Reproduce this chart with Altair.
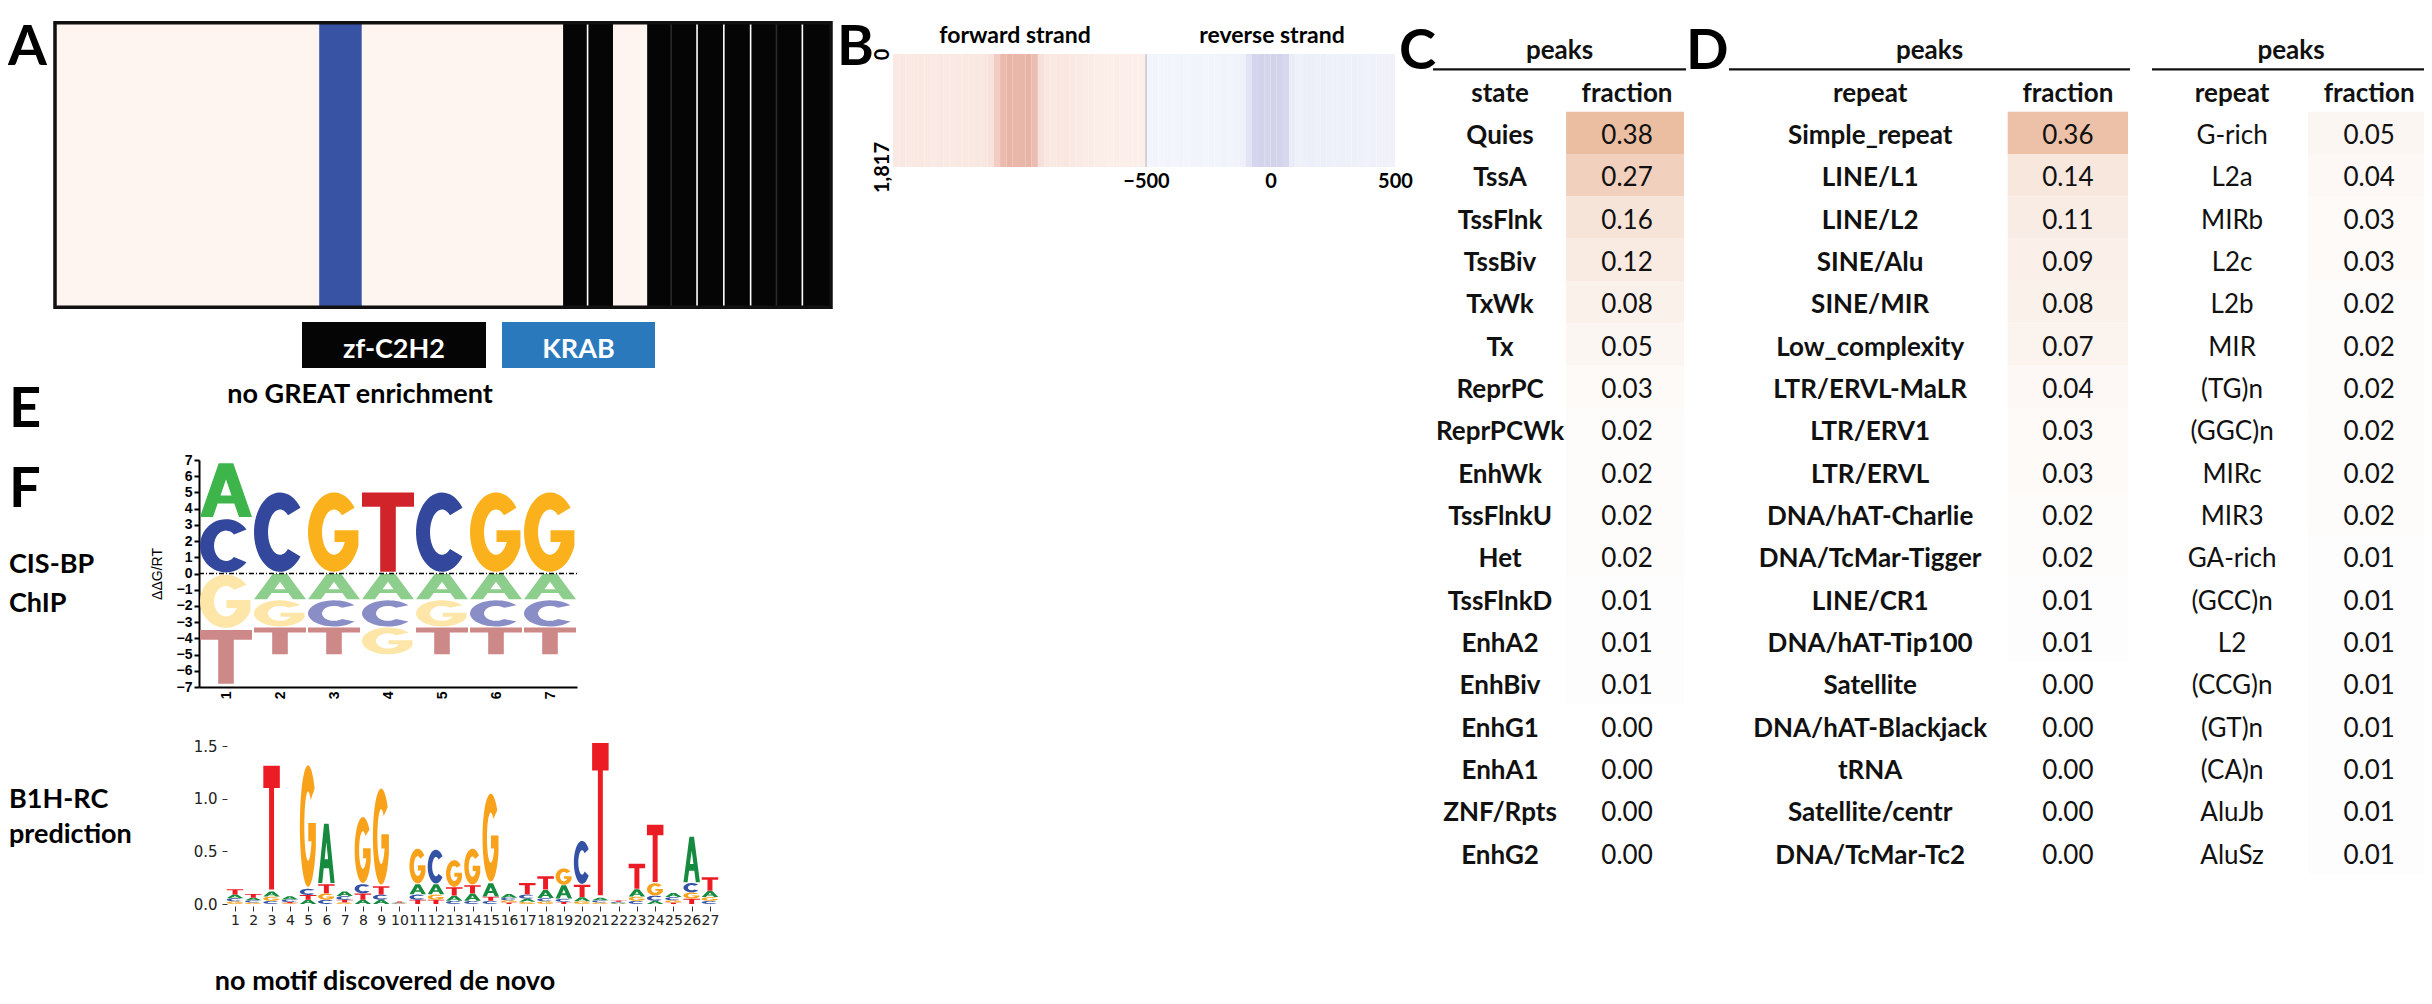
import altair as alt
import numpy as np
import pandas as pd

OFF = 8            # page margin: reference pixel -> chart pixel
W, H = 2416, 988
FONT = "Lato"


def rng(a, b):
    return [a - OFF, b - OFF]


# ------------------------------------------------------------------ data
# Panel A: protein map (residue coordinates)
protein_length = 840
stripe_start = [286]
stripe_end = [332]
zf_start = [550, 577, 641, 667, 695, 724, 753, 781, 809]
zf_end = [576, 604, 667, 695, 724, 753, 781, 809, 840]
zf_gap_pos = [576.5, 667, 695, 724, 753, 781, 809]
zf_gap_color = ["#ffffff", "#2a2a2a", "#ffffff", "#ffffff", "#ffffff", "#2a2a2a", "#ffffff"]
legend_labels = ["zf-C2H2", "KRAB"]
legend_colors = ["#050505", "#2b79bd"]

# Panel B: read density profile around peak summits (25 bp bins, -500..500)
bin_starts = list(range(-500, 500, 25))
fwd_density = [0.11, 0.12, 0.10, 0.11, 0.12, 0.11, 0.10, 0.12, 0.11, 0.10,
               0.11, 0.12, 0.11, 0.12, 0.13, 0.15, 0.30, 0.44, 0.47, 0.45,
               0.46, 0.48, 0.42, 0.17, 0.12, 0.11, 0.12, 0.13, 0.11, 0.10,
               0.09, 0.09, 0.08, 0.08, 0.07, 0.08, 0.07, 0.07, 0.06, 0.07]
rev_density = [0.04, 0.05, 0.04, 0.05, 0.04, 0.05, 0.04, 0.05, 0.05, 0.04,
               0.05, 0.05, 0.06, 0.05, 0.06, 0.08, 0.20, 0.32, 0.34, 0.33,
               0.35, 0.34, 0.30, 0.12, 0.08, 0.09, 0.10, 0.09, 0.10, 0.09,
               0.08, 0.09, 0.08, 0.09, 0.08, 0.07, 0.08, 0.07, 0.08, 0.07]
n_peaks = 1817

# Panel C: chromatin states
states = ["Quies", "TssA", "TssFlnk", "TssBiv", "TxWk", "Tx", "ReprPC", "ReprPCWk",
          "EnhWk", "TssFlnkU", "Het", "TssFlnkD", "EnhA2", "EnhBiv", "EnhG1",
          "EnhA1", "ZNF/Rpts", "EnhG2"]
state_frac = [0.38, 0.27, 0.16, 0.12, 0.08, 0.05, 0.03, 0.02, 0.02, 0.02, 0.02,
              0.01, 0.01, 0.01, 0.00, 0.00, 0.00, 0.00]
# Panel D: repeat classes / families
repeat_class = ["Simple_repeat", "LINE/L1", "LINE/L2", "SINE/Alu", "SINE/MIR",
                "Low_complexity", "LTR/ERVL-MaLR", "LTR/ERV1", "LTR/ERVL",
                "DNA/hAT-Charlie", "DNA/TcMar-Tigger", "LINE/CR1", "DNA/hAT-Tip100",
                "Satellite", "DNA/hAT-Blackjack", "tRNA", "Satellite/centr",
                "DNA/TcMar-Tc2"]
class_frac = [0.36, 0.14, 0.11, 0.09, 0.08, 0.07, 0.04, 0.03, 0.03, 0.02, 0.02,
              0.01, 0.01, 0.00, 0.00, 0.00, 0.00, 0.00]
repeat_family = ["G-rich", "L2a", "MIRb", "L2c", "L2b", "MIR", "(TG)n", "(GGC)n",
                 "MIRc", "MIR3", "GA-rich", "(GCC)n", "L2", "(CCG)n", "(GT)n",
                 "(CA)n", "AluJb", "AluSz"]
family_frac = [0.05, 0.04, 0.03, 0.03, 0.02, 0.02, 0.02, 0.02, 0.02, 0.02, 0.01,
               0.01, 0.01, 0.01, 0.01, 0.01, 0.01, 0.01]

# Panel F: CIS-BP ChIP motif (ddG/RT)
cis_pos = [1, 2, 3, 4, 5, 6, 7]
cis_A = [3.45, -1.62, -1.62, -1.62, -1.62, -1.62, -1.62]
cis_C = [3.42, 5.10, -1.68, -1.68, 5.10, -1.68, -1.68]
cis_G = [-3.42, -1.68, 5.10, -1.72, -1.68, 5.10, 5.10]
cis_T = [-3.45, -1.72, -1.72, 5.10, -1.72, -1.72, -1.72]

# Panel F: B1H-RC prediction (bits)
b1h_pos = list(range(1, 28))
b1h_A = [0.035, 0.025, 0.05, 0.03, 0.04, 0.58, 0.045, 0.04, 0.04, 0.006, 0.10, 0.10,
         0.05, 0.07, 0.13, 0.035, 0.03, 0.08, 0.13, 0.04, 0.025, 0.006, 0.07, 0.03,
         0.04, 0.445, 0.06]
b1h_C = [0.03, 0.02, 0.03, 0.025, 0.06, 0.04, 0.035, 0.09, 0.05, 0.005, 0.05, 0.33,
         0.03, 0.03, 0.03, 0.025, 0.04, 0.03, 0.03, 0.42, 0.02, 0.01, 0.03, 0.05,
         0.03, 0.09, 0.03]
b1h_G = [0.025, 0.015, 0.04, 0.008, 1.19, 0.06, 0.015, 0.645, 0.94, 0.004, 0.34, 0.05,
         0.26, 0.35, 0.86, 0.02, 0.02, 0.025, 0.16, 0.025, 0.015, 0.005, 0.04, 0.12,
         0.02, 0.06, 0.035]
b1h_T = [0.05, 0.035, 1.21, 0.01, 0.045, 0.09, 0.025, 0.06, 0.08, 0.01, 0.04, 0.04,
         0.08, 0.08, 0.04, 0.015, 0.11, 0.13, 0.02, 0.12, 1.49, 0.012, 0.245, 0.56,
         0.015, 0.05, 0.13]

# ------------------------------------------------------------------ layout
A_X, A_Y = (55, 831), (307.2, 22.8)
B_FWD_X, B_REV_X, B_Y = (893, 1145), (1146, 1395), (54, 167)
TBL_Y = (27, 874)
CIS_X, CIS_Y = (199, 577), (687, 460)
B1H_X, B1H_Y = (225.9, 719.1), (904, 746)

layers = []


def page_x():
    return alt.Scale(domain=[OFF, W + OFF], range=[0, W])


def page_y():
    return alt.Scale(domain=[OFF, H + OFF], range=[0, H])


def text_layer(df, size, weight="bold", align="left", color="black", font=FONT):
    return alt.Chart(df).mark_text(
        fontSize=size, fontWeight=weight, align=align, baseline="alphabetic",
        color=color, font=font).encode(
        x=alt.X("x:Q", scale=page_x(), axis=None),
        y=alt.Y("y:Q", scale=page_y(), axis=None),
        text="t:N")


# ------------------------------------------------------------------ panel A
ax = alt.Scale(domain=[0, protein_length], range=rng(*A_X))
ay = alt.Scale(domain=[0, 1], range=rng(*A_Y))
box = pd.DataFrame({"s": [0], "e": [protein_length], "lo": [0], "hi": [1]})
layers.append(alt.Chart(box).mark_rect(fill="#fff5f0").encode(
    x=alt.X("s:Q", scale=ax, axis=None), x2="e",
    y=alt.Y("lo:Q", scale=ay, axis=None), y2="hi"))
stripe = pd.DataFrame({"s": stripe_start, "e": stripe_end, "lo": 0, "hi": 1})
layers.append(alt.Chart(stripe).mark_rect(fill="#3953a4").encode(
    x=alt.X("s:Q", scale=ax, axis=None), x2="e",
    y=alt.Y("lo:Q", scale=ay, axis=None), y2="hi"))
zf = pd.DataFrame({"s": zf_start, "e": zf_end, "lo": 0, "hi": 1})
layers.append(alt.Chart(zf).mark_rect(fill="#050505").encode(
    x=alt.X("s:Q", scale=ax, axis=None), x2="e",
    y=alt.Y("lo:Q", scale=ay, axis=None), y2="hi"))
gaps = pd.DataFrame({"p": zf_gap_pos, "c": zf_gap_color, "lo": 0, "hi": 1})
layers.append(alt.Chart(gaps).mark_rule(strokeWidth=1.6).encode(
    x=alt.X("p:Q", scale=ax, axis=None),
    y=alt.Y("lo:Q", scale=ay, axis=None), y2="hi",
    color=alt.Color("c:N", scale=None)))
layers.append(alt.Chart(box).mark_rect(fillOpacity=0, stroke="#111111", strokeWidth=3.5).encode(
    x=alt.X("s:Q", scale=ax, axis=None), x2="e",
    y=alt.Y("lo:Q", scale=ay, axis=None), y2="hi"))

# legend boxes below the map
leg = pd.DataFrame({"x0": [302, 502], "x1": [486, 655], "y0": [322, 322],
                    "y1": [368, 368], "c": legend_colors,
                    "t": legend_labels, "x": [394, 578.5], "y": [358, 358]})
layers.append(alt.Chart(leg).mark_rect().encode(
    x=alt.X("x0:Q", scale=page_x(), axis=None), x2="x1",
    y=alt.Y("y0:Q", scale=page_y(), axis=None), y2="y1",
    color=alt.Color("c:N", scale=None)))
layers.append(text_layer(leg[["t", "x", "y"]], 27, align="center", color="white"))

# ------------------------------------------------------------------ panel B
for dens, xr, c_lo, c_hi, yaxis, xaxis in [
        (fwd_density, B_FWD_X, "#fff8f5", "#d06a50", True, False),
        (rev_density, B_REV_X, "#f7f9fe", "#8c8cc8", False, True)]:
    hm = pd.DataFrame({"b0": bin_starts, "b1": [b + 25 for b in bin_starts],
                       "d": dens, "r0": 0, "r1": n_peaks})
    xs = alt.Scale(domain=[-500, 500], range=rng(*xr))
    ys = alt.Scale(domain=[0, n_peaks], range=rng(*B_Y))
    x_axis = None
    if xaxis:
        x_axis = alt.Axis(orient="bottom", values=[-500, 0, 500], ticks=False,
                          domain=False, grid=False, title=None, labelFont=FONT,
                          labelFontSize=20, labelFontWeight="bold", labelColor="black",
                          labelPadding=4, labelOverlap=False, labelFlush=False,
                          offset=(B_Y[1] - OFF) - H)
    y_axis = None
    if yaxis:
        y_axis = alt.Axis(orient="left", values=[0, n_peaks],
                          labelExpr="format(datum.value, ',')",
                          labelAngle=270, labelAlign="center", labelBaseline="bottom",
                          ticks=False, domain=False, grid=False, title=None,
                          labelFont=FONT, labelFontSize=20, labelFontWeight="bold",
                          labelColor="black", labelPadding=1, labelOverlap=False,
                          labelFlush=False, offset=-(xr[0] - OFF))
    layers.append(alt.Chart(hm).mark_rect().encode(
        x=alt.X("b0:Q", scale=xs, axis=x_axis), x2="b1",
        y=alt.Y("r0:Q", scale=ys, axis=y_axis), y2="r1",
        color=alt.Color("d:Q", scale=alt.Scale(domain=[0, 1], range=[c_lo, c_hi],
                                               interpolate="rgb"),
                        legend=None)))
sep = pd.DataFrame({"b": [-500], "r0": [0], "r1": [n_peaks]})
layers.append(alt.Chart(sep).mark_rule(color="#b8b8c0", strokeWidth=1.2).encode(
    x=alt.X("b:Q", scale=alt.Scale(domain=[-500, 500], range=rng(*B_REV_X)), axis=None),
    y=alt.Y("r0:Q", scale=alt.Scale(domain=[0, n_peaks], range=rng(*B_Y)), axis=None),
    y2="r1"))

# ------------------------------------------------------------------ tables C / D
frac_scale = alt.Scale(domain=[0, 0.38], range=["#ffffff", "#ebbea2"], interpolate="rgb")


def table(labels, values, xr, lab_c, val_c, cell_l, cell_r, label_weight, head):
    n = len(labels)
    df = pd.DataFrame({"idx": list(range(n)), "label": labels, "value": values})
    df["vtext"] = [f"{v:.2f}" for v in values]
    df["lo"] = df["idx"] - 0.5
    df["hi"] = df["idx"] + 0.5
    df["cl"] = cell_l
    df["cr"] = cell_r
    df["lc"] = lab_c
    df["vc"] = val_c
    xs = alt.Scale(domain=[0, 1], range=rng(*xr))
    ys = alt.Scale(domain=[-2.5, 17.5], range=rng(*TBL_Y))
    out = [alt.Chart(df).mark_rect().encode(
        x=alt.X("cl:Q", scale=xs, axis=None), x2="cr",
        y=alt.Y("lo:Q", scale=ys, axis=None), y2="hi",
        color=alt.Color("value:Q", scale=frac_scale, legend=None))]
    out.append(alt.Chart(df).mark_text(font=FONT, fontSize=26, fontWeight=label_weight,
                                       baseline="middle", dy=3, color="#111111").encode(
        x=alt.X("lc:Q", scale=xs, axis=None), y=alt.Y("idx:Q", scale=ys, axis=None),
        text="label:N"))
    out.append(alt.Chart(df).mark_text(font=FONT, fontSize=26, fontWeight="normal",
                                       baseline="middle", dy=3, color="#111111").encode(
        x=alt.X("vc:Q", scale=xs, axis=None), y=alt.Y("idx:Q", scale=ys, axis=None),
        text="vtext:N"))
    hdr = pd.DataFrame({"t": ["peaks", head, "fraction"], "x": [0.5, lab_c, val_c],
                        "y": [-2, -1, -1]})
    out.append(alt.Chart(hdr).mark_text(font=FONT, fontSize=26, fontWeight="bold",
                                        baseline="middle", dy=3, color="#111111").encode(
        x=alt.X("x:Q", scale=xs, axis=None), y=alt.Y("y:Q", scale=ys, axis=None),
        text="t:N"))
    line = pd.DataFrame({"x0": [0], "x1": [1], "y": [-1.5]})
    out.append(alt.Chart(line).mark_rule(color="#111111", strokeWidth=2.2).encode(
        x=alt.X("x0:Q", scale=xs, axis=None), x2="x1",
        y=alt.Y("y:Q", scale=ys, axis=None)))
    return out


layers += table(states, state_frac, (1433, 1686), 0.265, 0.767, 0.526, 0.992, "bold", "state")
layers += table(repeat_class, class_frac, (1729, 2130), 0.352, 0.845, 0.695, 0.995, "bold", "repeat")
layers += table(repeat_family, family_frac, (2152, 2430), 0.288, 0.781, 0.561, 0.993, "normal", "repeat")

# ------------------------------------------------------------------ logos
def ell(rx, ry, a0, a1, n=44):
    t = np.radians(np.linspace(a0, a1, n))
    return list(zip(rx * np.cos(t), ry * np.sin(t)))


GLYPHS = {
    "T": [[(-1, -1), (1, -1), (1, -0.64), (0.3, -0.64), (0.3, 1), (-0.3, 1),
           (-0.3, -0.64), (-1, -0.64)]],
    "A": [[(-1, 1), (-0.28, -1), (0.28, -1), (1, 1), (0.5, 1), (0.32, 0.5),
           (-0.32, 0.5), (-0.5, 1)],
          [(-0.212, 0.2), (0.212, 0.2), (0, -0.39)]],
    "C": [ell(1, 1, -38, -322) + ell(0.46, 0.57, -312, -48)],
    "G": [ell(1, 1, -38, -340) + [(0.94, -0.05), (0.02, -0.05), (0.02, 0.25)]
          + ell(0.46, 0.57, -334, -48)],
}


def glyph_path(letter, w, h):
    parts = []
    for contour in GLYPHS[letter]:
        pts = [(u * w / 2, v * h / 2) for u, v in contour]
        parts.append("M" + "L".join(f"{x:.2f},{y:.2f}" for x, y in pts) + "Z")
    return "".join(parts)


def stack_logo(positions, per_base):
    rows = []
    for i, p in enumerate(positions):
        vals = [(b, per_base[b][i]) for b in "ACGT"]
        up = sorted([t for t in vals if t[1] > 0], key=lambda t: t[1])
        dn = sorted([t for t in vals if t[1] < 0], key=lambda t: -t[1])
        cum = 0.0
        for b, v in up:
            rows.append(dict(pos=p, base=b, lo=cum, hi=cum + v, sign=1))
            cum += v
        cum = 0.0
        for b, v in dn:
            rows.append(dict(pos=p, base=b, lo=cum + v, hi=cum, sign=-1))
            cum += v
    df = pd.DataFrame(rows)
    df["mid"] = (df["lo"] + df["hi"]) / 2
    return df


# CIS-BP
cis = stack_logo(cis_pos, {"A": cis_A, "C": cis_C, "G": cis_G, "T": cis_T})
cis_ppu = (CIS_Y[0] - CIS_Y[1]) / 14.0
cis["path"] = [glyph_path(b, 52, (hi - lo) * cis_ppu * 0.96)
               for b, lo, hi in zip(cis["base"], cis["lo"], cis["hi"])]
pos_col = {"A": "#3db54a", "C": "#33479c", "G": "#fbb11b", "T": "#d1232a"}
neg_col = {"A": "#8dce8c", "C": "#8a8ec6", "G": "#fde6a8", "T": "#cd8888"}
cis["col"] = [(pos_col if s > 0 else neg_col)[b] for b, s in zip(cis["base"], cis["sign"])]
cxs = alt.Scale(domain=[0.5, 7.5], range=rng(*CIS_X), nice=False, zero=False)
cys = alt.Scale(domain=[-7, 7], range=rng(*CIS_Y), nice=False, zero=False)
layers.append(alt.Chart(cis).mark_point(filled=True, opacity=1, strokeWidth=0).encode(
    x=alt.X("pos:Q", scale=cxs, axis=alt.Axis(
        orient="bottom", values=cis_pos, labelAngle=270, ticks=False, grid=False,
        domainColor="black", domainWidth=2, labelFont="Liberation Sans",
        labelFontSize=14, labelFontWeight="bold", labelColor="black",
        labelPadding=4, title=None, labelOverlap=False,
        offset=(CIS_Y[0] - OFF) - H)),
    y=alt.Y("mid:Q", scale=cys, axis=alt.Axis(
        orient="left", values=list(range(-7, 8)), tickSize=5, tickWidth=2,
        tickColor="black", domainColor="black", domainWidth=2, grid=False,
        labelFont="Liberation Sans", labelFontSize=14, labelFontWeight="bold",
        labelColor="black", labelPadding=2, labelOverlap=False, labelFlush=False,
        title="ΔΔG/RT", titleFont="Liberation Sans", titleFontSize=14,
        titleFontWeight="normal", titleColor="black", titlePadding=12,
        offset=-(CIS_X[0] - OFF))),
    shape=alt.Shape("path:N", scale=None),
    color=alt.Color("col:N", scale=None),
    size=alt.value(4)))
zero = pd.DataFrame({"x0": [0.5], "x1": [7.5], "y": [0]})
layers.append(alt.Chart(zero).mark_rule(color="black", strokeWidth=1.3,
                                        strokeDash=[5, 2, 1, 2]).encode(
    x=alt.X("x0:Q", scale=cxs, axis=None), x2="x1",
    y=alt.Y("y:Q", scale=cys, axis=None)))

# B1H-RC
b1h = stack_logo(b1h_pos, {"A": b1h_A, "C": b1h_C, "G": b1h_G, "T": b1h_T})
b1h_ppu = (B1H_Y[0] - B1H_Y[1]) / 1.5
b1h["path"] = [glyph_path(b, 16.5, (hi - lo) * b1h_ppu * 0.97)
               for b, lo, hi in zip(b1h["base"], b1h["lo"], b1h["hi"])]
b1h_col = {"A": "#168a3e", "C": "#3352a4", "G": "#f8a21c", "T": "#ec1c24"}
b1h["col"] = [b1h_col[b] for b in b1h["base"]]
bxs = alt.Scale(domain=[0.5, 27.5], range=rng(*B1H_X), nice=False, zero=False)
bys = alt.Scale(domain=[0, 1.5], range=rng(*B1H_Y), nice=False, zero=False)
layers.append(alt.Chart(b1h).mark_point(filled=True, opacity=1, strokeWidth=0).encode(
    x=alt.X("pos:Q", scale=bxs, axis=alt.Axis(
        orient="bottom", values=b1h_pos, tickSize=5, tickColor="#333333",
        domain=False, grid=False, labelFont="DejaVu Sans", labelFontSize=14,
        labelColor="#222222", labelPadding=2, labelOverlap=False, labelFlush=False,
        title=None, offset=(906 - OFF) - H)),
    y=alt.Y("mid:Q", scale=bys, axis=alt.Axis(
        orient="left", values=[0, 0.5, 1.0, 1.5], format=".1f", tickSize=5,
        tickColor="#333333", domain=False, grid=False, labelFont="DejaVu Sans",
        labelFontSize=15, labelColor="#222222", labelPadding=5, labelOverlap=False,
        labelFlush=False, title=None, offset=-(227 - OFF))),
    shape=alt.Shape("path:N", scale=None),
    color=alt.Color("col:N", scale=None),
    size=alt.value(4)))

# ------------------------------------------------------------------ annotations
panel_letters = pd.DataFrame({"t": ["A", "B", "C", "D", "E", "F"],
                              "x": [8, 837, 1399, 1686, 9, 9],
                              "y": [65, 65, 69, 69, 427, 507]})
layers.append(text_layer(panel_letters, 56))
captions_c = pd.DataFrame({"t": ["no GREAT enrichment", "no motif discovered de novo"],
                           "x": [360, 385], "y": [403, 990]})
layers.append(text_layer(captions_c, 27, align="center"))
strand_titles = pd.DataFrame({"t": ["forward strand", "reverse strand"],
                              "x": [1015, 1272], "y": [43, 43]})
layers.append(text_layer(strand_titles, 23, align="center"))
side_labels = pd.DataFrame({"t": ["CIS-BP", "ChIP", "B1H-RC", "prediction"],
                            "x": [9, 9, 9, 9], "y": [573, 612, 808, 843]})
layers.append(text_layer(side_labels, 27))

chart = alt.layer(*layers).resolve_scale(
    x="independent", y="independent", color="independent",
    shape="independent", size="independent"
).properties(
    width=W, height=H, padding=0, background="white",
    autosize=alt.AutoSizeParams(type="none")
).configure_view(strokeWidth=0)

chart.save("out.html", embed_options={"renderer": "svg", "actions": False})
